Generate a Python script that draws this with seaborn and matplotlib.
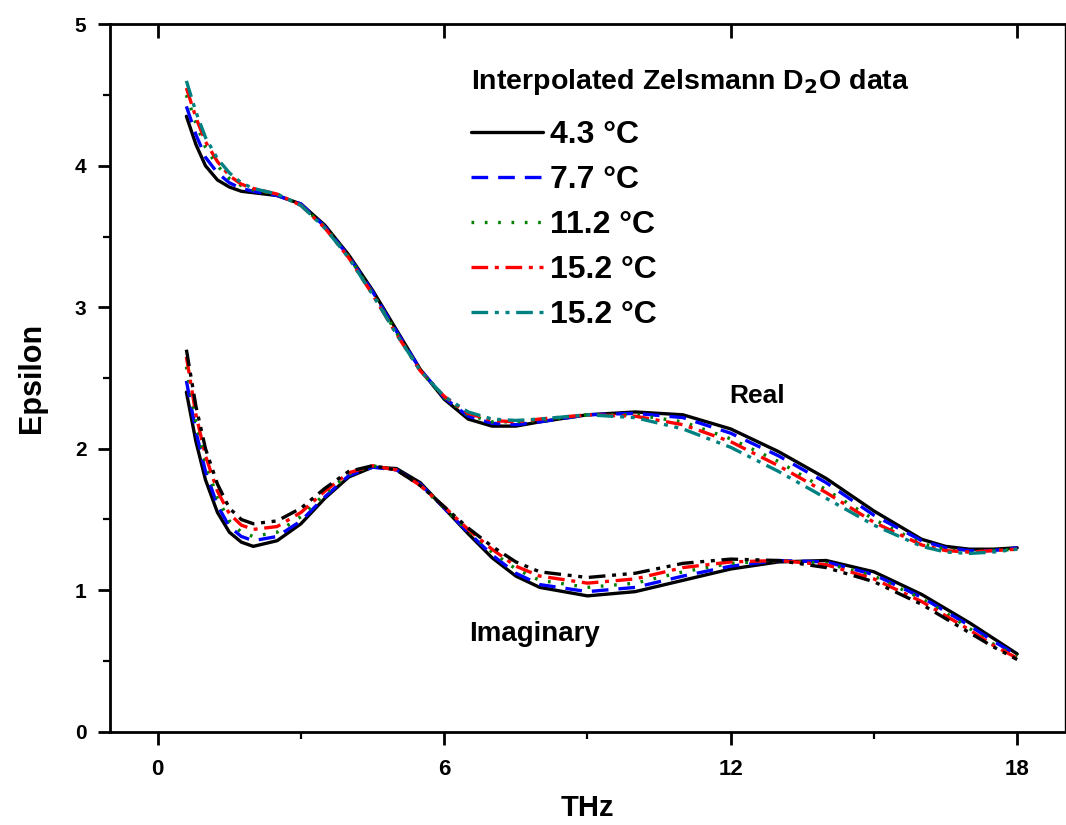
import matplotlib
matplotlib.use("Agg")
import matplotlib.pyplot as plt
from matplotlib.lines import Line2D
from matplotlib.ticker import MultipleLocator
import pandas as pd
import seaborn as sns

# Frequency grid (THz)
thz = [0.6, 0.8, 1.0, 1.25, 1.5, 1.75, 2.0, 2.5, 3.0, 3.5, 4.0, 4.5, 5.0, 5.5,
       6.0, 6.5, 7.0, 7.5, 8.0, 9.0, 10.0, 11.0, 12.0, 13.0, 14.0, 15.0, 16.0,
       16.5, 17.0, 17.5, 18.0]

temps = ["4.3 °C", "7.7 °C", "11.2 °C", "15.2 °C", "15.2 °C "]

# Real part of the dielectric function
real_43 = [4.35, 4.15, 4.00, 3.90, 3.85, 3.82, 3.81, 3.79, 3.73, 3.58, 3.37, 3.12, 2.84, 2.56,
           2.35, 2.21, 2.16, 2.16, 2.19, 2.24, 2.26, 2.24, 2.14, 1.98, 1.79, 1.56, 1.36,
           1.31, 1.29, 1.29, 1.30]
real_77 = [4.42, 4.22, 4.06, 3.95, 3.88, 3.84, 3.82, 3.79, 3.73, 3.57, 3.36, 3.11, 2.83, 2.56,
           2.36, 2.23, 2.18, 2.17, 2.19, 2.24, 2.25, 2.22, 2.11, 1.95, 1.76, 1.53, 1.35,
           1.30, 1.28, 1.28, 1.30]
real_112 = [4.50, 4.30, 4.13, 4.00, 3.91, 3.86, 3.83, 3.80, 3.72, 3.57, 3.36, 3.10, 2.82, 2.55,
            2.36, 2.24, 2.19, 2.19, 2.20, 2.24, 2.24, 2.19, 2.07, 1.91, 1.71, 1.50, 1.33,
            1.29, 1.27, 1.28, 1.29]
real_152a = [4.55, 4.34, 4.17, 4.03, 3.93, 3.87, 3.84, 3.80, 3.72, 3.56, 3.35, 3.09, 2.81, 2.55,
             2.37, 2.25, 2.20, 2.19, 2.21, 2.24, 2.23, 2.17, 2.05, 1.88, 1.69, 1.48, 1.32,
             1.28, 1.27, 1.28, 1.29]
real_152b = [4.60, 4.38, 4.20, 4.05, 3.95, 3.88, 3.84, 3.80, 3.72, 3.56, 3.35, 3.09, 2.81, 2.55,
             2.37, 2.26, 2.21, 2.20, 2.21, 2.24, 2.22, 2.14, 2.01, 1.84, 1.65, 1.46, 1.31,
             1.27, 1.26, 1.27, 1.29]

# Imaginary part of the dielectric function
imag_43 = [2.40, 2.05, 1.78, 1.55, 1.41, 1.34, 1.31, 1.35, 1.47, 1.65, 1.80, 1.87, 1.86, 1.76,
           1.58, 1.40, 1.23, 1.10, 1.02, 0.96, 0.99, 1.07, 1.15, 1.20, 1.21, 1.13, 0.97,
           0.87, 0.77, 0.66, 0.55]
imag_77 = [2.48, 2.12, 1.84, 1.60, 1.45, 1.38, 1.35, 1.38, 1.49, 1.66, 1.81, 1.87, 1.85, 1.75,
           1.58, 1.41, 1.25, 1.12, 1.04, 0.99, 1.02, 1.10, 1.17, 1.21, 1.20, 1.11, 0.95,
           0.85, 0.75, 0.64, 0.54]
imag_112 = [2.58, 2.18, 1.90, 1.65, 1.49, 1.41, 1.38, 1.41, 1.52, 1.68, 1.82, 1.88, 1.85, 1.74,
            1.58, 1.42, 1.27, 1.15, 1.07, 1.02, 1.05, 1.13, 1.19, 1.21, 1.19, 1.10, 0.94,
            0.84, 0.73, 0.62, 0.53]
imag_152a = [2.65, 2.24, 1.95, 1.70, 1.54, 1.46, 1.43, 1.45, 1.55, 1.70, 1.83, 1.88, 1.85, 1.74,
             1.59, 1.43, 1.29, 1.17, 1.10, 1.05, 1.08, 1.16, 1.20, 1.21, 1.18, 1.08, 0.92,
             0.82, 0.72, 0.61, 0.52]
imag_152b = [2.70, 2.30, 2.00, 1.75, 1.58, 1.50, 1.47, 1.49, 1.58, 1.72, 1.84, 1.88, 1.85, 1.74,
             1.59, 1.44, 1.31, 1.20, 1.13, 1.09, 1.12, 1.19, 1.22, 1.21, 1.16, 1.06, 0.90,
             0.80, 0.70, 0.60, 0.51]

real_sets = [real_43, real_77, real_112, real_152a, real_152b]
imag_sets = [imag_43, imag_77, imag_112, imag_152a, imag_152b]

real_colors = ["black", "#0000ff", "#008000", "#ff0000", "#008080"]
imag_colors = ["black", "#0000ff", "#008000", "#ff0000", "black"]
styles = ["-", (0, (5, 3)), (0, (0.8, 3.2)), (0, (5, 2, 1.2, 2)), (0, (5, 2, 1.2, 2, 1.2, 2))]

sns.set_theme(style="white")
plt.rcParams["font.family"] = ["Liberation Sans", "DejaVu Sans"]
plt.rcParams["font.weight"] = "bold"
plt.rcParams["text.color"] = "black"
plt.rcParams["axes.labelcolor"] = "black"
plt.rcParams["xtick.color"] = "black"
plt.rcParams["ytick.color"] = "black"

fig = plt.figure(figsize=(10.66, 8.25), dpi=100)
ax = fig.add_axes([0.1032, 0.1131, 0.8958, 0.8574])

rows = []
for name, vals in zip(temps, real_sets):
    rows += [("real", name, x, y) for x, y in zip(thz, vals)]
for name, vals in zip(temps, imag_sets):
    rows += [("imag", name, x, y) for x, y in zip(thz, vals)]
df = pd.DataFrame(rows, columns=["part", "temp", "THz", "eps"])

lw = 2.4
for part, cols in (("imag", imag_colors), ("real", real_colors)):
    for i, name in enumerate(temps):
        sub = df[(df["part"] == part) & (df["temp"] == name)]
        sns.lineplot(data=sub, x="THz", y="eps", ax=ax, color=cols[i],
                     linestyle=styles[i], linewidth=lw, estimator=None,
                     sort=False, legend=False)

ax.set_xlim(-1, 19)
ax.set_ylim(0, 5)
ax.xaxis.set_major_locator(MultipleLocator(6))
ax.xaxis.set_minor_locator(MultipleLocator(3))
ax.yaxis.set_major_locator(MultipleLocator(1))
ax.yaxis.set_minor_locator(MultipleLocator(0.5))

for side in ("left", "bottom", "top"):
    ax.spines[side].set_linewidth(2.0)
    ax.spines[side].set_color("black")
ax.spines["right"].set_linewidth(1.0)
ax.spines["right"].set_color("black")

ax.tick_params(axis="both", which="major", direction="out", length=9, width=2.0,
               color="black", left=True, bottom=True)
ax.tick_params(axis="both", which="minor", direction="out", length=5, width=1.6,
               color="black", left=True, bottom=True)
ax.tick_params(axis="x", which="major", top=True, labeltop=False)
ax.tick_params(axis="x", which="minor", top=False)
ax.tick_params(axis="x", which="major", pad=11)
ax.tick_params(axis="y", which="major", pad=8)
# inward ticks on the top frame
for t in ax.xaxis.get_major_ticks():
    t.tick2line.set_marker(3)
    t.tick2line.set_markersize(10)

for lab in ax.get_xticklabels():
    lab.set_fontsize(16)
    lab.set_fontweight("bold")
for lab in ax.get_yticklabels():
    lab.set_fontsize(15)
    lab.set_fontweight("bold")

ax.set_xlabel("THz", fontsize=21, fontweight="bold", labelpad=10)
ax.set_ylabel("Epsilon", fontsize=22, fontweight="bold", labelpad=20)

ax.text(12.55, 2.37, "Real", fontsize=19, fontweight="bold", ha="center", va="center")
ax.text(7.9, 0.69, "Imaginary", fontsize=20, fontweight="bold", ha="center", va="center")

handles = [Line2D([], [], color=real_colors[i], linestyle=styles[i], linewidth=lw)
           for i in range(len(temps))]
leg = ax.legend(handles, [t.strip() for t in temps],
                title="Interpolated Zelsmann D$_\\mathbf{2}$O data",
                loc="upper left", bbox_to_anchor=(0.365, 0.958), frameon=False,
                fontsize=23, handlelength=2.25, handletextpad=0.2,
                labelspacing=0.47, borderaxespad=0)
leg.get_title().set_fontsize(20.5)
leg.get_title().set_fontweight("bold")
leg._legend_box.align = "left"
leg._legend_box.sep = 17
for txt in leg.get_texts():
    txt.set_fontweight("bold")

fig.savefig("out.png", dpi=100, facecolor="white")
